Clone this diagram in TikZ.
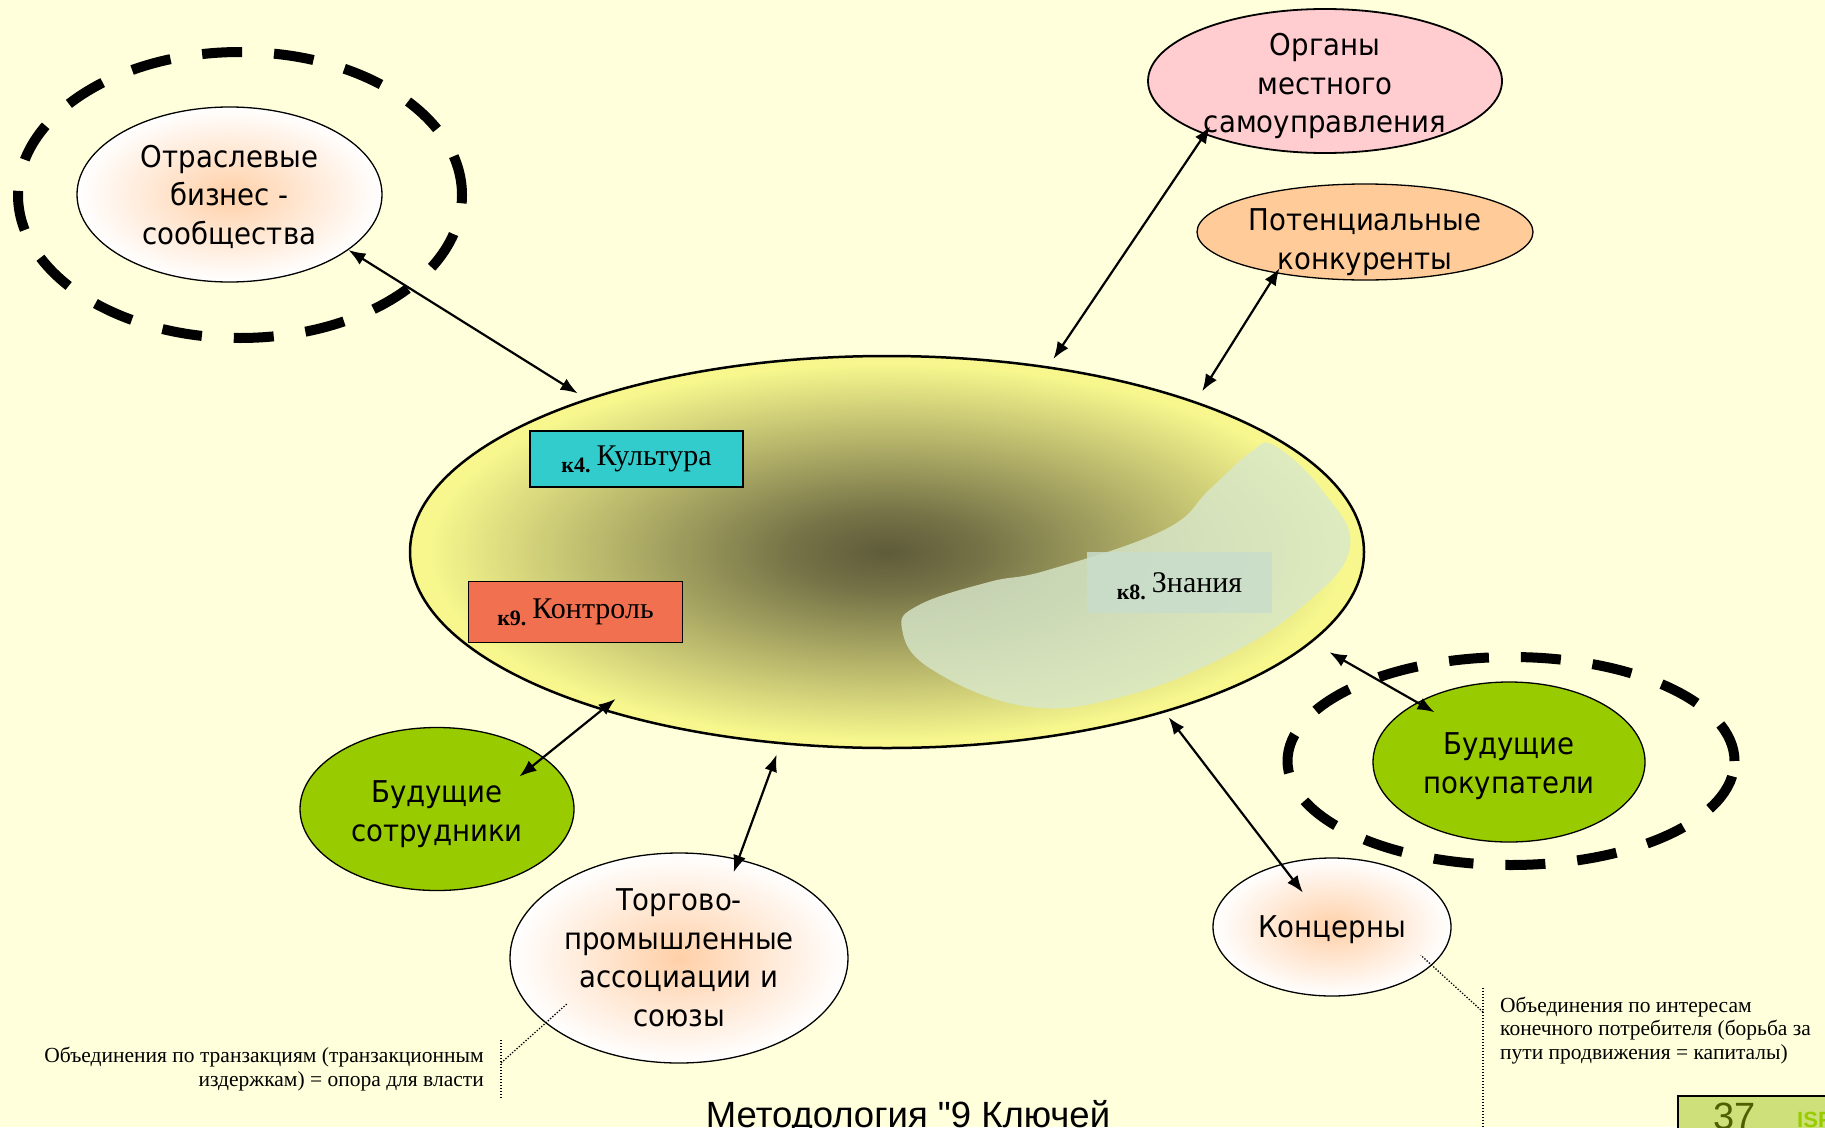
\documentclass[tikz,border=0pt]{standalone}
\usepackage{fontspec}
\setmainfont{Liberation Serif}
\newfontfamily\tahoma{DejaVu Sans}[FakeStretch=0.92]
\newfontfamily\arial{Liberation Sans}
\usetikzlibrary{shapes.geometric,arrows.meta}

\definecolor{paper}{HTML}{FFFFDC}
\definecolor{coredark}{HTML}{5E5B3A}
\definecolor{coreyel}{HTML}{F7F78E}
\definecolor{know}{HTML}{D8E8CC}
\definecolor{knowbox}{HTML}{C8DDCB}
\definecolor{peach}{HTML}{FFD0A8}
\definecolor{leaf}{HTML}{99CC00}
\definecolor{orgpink}{HTML}{FFCCCF}
\definecolor{apricot}{HTML}{FFCC99}
\definecolor{culture}{HTML}{33CCCC}
\definecolor{control}{HTML}{F07050}
\definecolor{pagebg}{HTML}{CDE07A}
\definecolor{pagenum}{HTML}{4E5E00}

\pgfdeclareradialshading{coreshade}{\pgfpoint{0bp}{0bp}}{color(0bp)=(coredark); color(5bp)=(coredark!85!coreyel); color(24bp)=(coreyel); color(50bp)=(coreyel)}

\newcommand\knum[1]{\raisebox{-7pt}[0pt][0pt]{\bfseries\fontsize{22pt}{22pt}\selectfont #1}\hspace{6pt}}

\begin{document}
\begin{tikzpicture}
[
    x=1pt, y=-1pt,
    party/.style={ellipse, draw=black, line width=1.3pt, inner sep=0pt},
    peach/.style={party, inner color=peach, outer color=white},
    leafy/.style={party, fill=leaf},
    ring/.style={ellipse, draw=black, line width=10pt, dash pattern=on 40pt off 32pt, inner sep=0pt},
    lbl/.style={font=\tahoma\fontsize{30pt}{38.5pt}\selectfont, align=center, inner sep=0pt},
    key/.style={rectangle, inner sep=0pt, font=\fontsize{30pt}{36pt}\selectfont},
    link/.style={{Latex[length=17pt,width=13pt]}-{Latex[length=17pt,width=13pt]}, line width=2.2pt},
    note/.style={font=\fontsize{21.5pt}{23.5pt}\selectfont, inner sep=0pt},
    noteline/.style={line width=1.3pt, dash pattern=on 1.3pt off 1.7pt},
]
\useasboundingbox (0,0) rectangle (1825,1127);
\clip (0,0) rectangle (1825,1127);
\fill[paper] (0,0) rectangle (1825,1127);

\node[ring, minimum width=444pt, minimum height=286pt] (ring-ind) at (240,195) {};
\node[ring, minimum width=447pt, minimum height=208pt] (ring-pok) at (1511,761) {};

\node[party, line width=2.5pt, shading=coreshade, minimum width=954pt, minimum height=392pt] (core) at (887,552) {};
\fill[know, opacity=.8] plot[smooth cycle, tension=.7] coordinates {(1350,547) (1304,605) (1222,658) (1117,698) (1024,706) (931,669) (902,629) (919,605) (989,582) (1048,570) (1164,530) (1210,489) (1251,452) (1275,446) (1322,490)};

\node[key, draw=black, line width=1.5pt, fill=culture, minimum width=213pt, minimum height=56pt] (k4) at (636.5,459) {\knum{к4.}Культура};
\node[key, draw=black, line width=1.5pt, fill=control, minimum width=214pt, minimum height=61pt] (k9) at (575.5,612) {\knum{к9.}Контроль};
\node[key, fill=knowbox, fill opacity=.85, text opacity=1, minimum width=185pt, minimum height=61pt] (k8) at (1179.5,582.5) {\knum{к8.}Знания};

\node[peach, minimum width=305pt, minimum height=175pt] (ind) at (229.5,194.5) {};
\node[lbl, yshift=-2pt] (ind-txt) at (ind) {Отраслевые\\бизнес -\\сообщества};
\node[party, line width=1.8pt, fill=orgpink, minimum width=354pt, minimum height=144pt] (org) at (1325,81) {};
\node[lbl, yshift=-5pt] (org-txt) at (org) {Органы\\местного\\самоуправления};
\node[party, fill=apricot, minimum width=336pt, minimum height=96pt] (pot) at (1365,232) {};
\node[lbl, yshift=-10pt] (pot-txt) at (pot) {Потенциальные\\конкуренты};
\node[leafy, minimum width=274pt, minimum height=163pt] (sotr) at (437,809) {};
\node[lbl, yshift=-5pt] (sotr-txt) at (sotr) {Будущие\\сотрудники};
\node[peach, minimum width=338pt, minimum height=210pt] (torg) at (679,958) {};
\node[lbl] (torg-txt) at (torg) {Торгово-\\промышленные\\ассоциации и\\союзы};
\node[leafy, minimum width=272pt, minimum height=160pt] (pok) at (1509,762) {};
\node[lbl, yshift=-4pt] (pok-txt) at (pok) {Будущие\\покупатели};
\node[peach, minimum width=238pt, minimum height=138pt] (konz) at (1332,927) {};
\node[lbl, yshift=-3pt] (konz-txt) at (konz) {Концерны};

\draw[link, shorten >=10pt] (ind.-25) -- (core.153);
\draw[link, shorten <=-10pt, shorten >=9pt] (org.204) -- (core.49);
\draw[link, shorten <=-6pt, shorten >=12pt] (pot.205) -- (core.26);
\draw[link, shorten <=-31pt, shorten >=-18pt] (sotr.26) -- (core.209);
\draw[link, shorten <=-14pt, shorten >=11pt] (torg.59) -- (core.-119);
\draw[link, shorten <=-36pt, shorten >=6pt] (konz.129) -- (core.-30);
\draw[link, shorten <=-20pt, shorten >=20pt] (pok.147) -- (core.-12);

\node[note, align=right, anchor=base east] (note-torg) at (484,1086) {Объединения по транзакциям (транзакционным\\издержкам) = опора для власти};
\coordinate (ltop) at (501,1040);
\coordinate (lbend) at (501,1063);
\coordinate (lbot) at (501,1098);
\draw[noteline] (ltop) -- (lbot);
\draw[noteline, shorten >=-29pt] (lbend) -- (torg.206);

\node[note, align=left, anchor=base west] (note-konz) at (1500,1059) {Объединения по интересам\\конечного потребителя (борьба за\\пути продвижения = капиталы)};
\coordinate (rtop) at (1483,988);
\coordinate (rbend) at (1483,1012);
\coordinate (rbot) at (1483,1127);
\draw[noteline] (rtop) -- (rbot);
\draw[noteline, shorten >=-15pt] (rbend) -- (konz.-21);

\node[font=\arial\fontsize{36.5pt}{40pt}\selectfont, anchor=base, inner sep=0pt] (title) at (908,1127) {Методология "9 Ключей};

\node[draw=black, line width=1.5pt, fill=pagebg, minimum width=200pt, minimum height=60pt, anchor=north west] (pgbox) at (1677,1095) {};
\node[font=\arial\fontsize{38pt}{40pt}\selectfont, text=pagenum, anchor=base west, inner sep=0pt] (pgnum) at (1713,1129) {37};
\node[font=\arial\bfseries\fontsize{22pt}{24pt}\selectfont, text=leaf, anchor=base west, inner sep=0pt] (pgtag) at (1797,1127) {ISF};
\end{tikzpicture}
\end{document}
